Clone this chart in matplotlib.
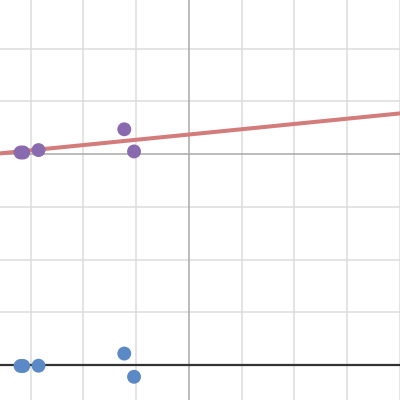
import numpy as np
import matplotlib.pyplot as plt

# point data
xs = [-3.19, -3.14, -2.85, -1.225, -1.04]
y_purple = [0.03, 0.03, 0.076, 0.47, 0.05]
y_blue = [-4.015, -4.015, -4.01, -3.78, -4.22]

# fitted line
slope = 0.1
intercept = 0.371
baseline = -4.0

x_lim = (-3.58, 4.0)
y_lim = (-4.66, 2.92)


def main():
    fig = plt.figure(figsize=(4, 4), dpi=100)
    ax = fig.add_axes([0, 0, 1, 1])
    ax.set_xlim(*x_lim)
    ax.set_ylim(*y_lim)

    for gx in range(-3, 5):
        if gx != 0:
            ax.axvline(gx, color='#dcdcdc', lw=1.1, zorder=0)
    for gy in range(-4, 3):
        if gy != 0:
            ax.axhline(gy, color='#dcdcdc', lw=1.1, zorder=0)
    ax.axvline(0, color='#a8a8a8', lw=1.1, zorder=1)
    ax.axhline(0, color='#a8a8a8', lw=1.1, zorder=1)
    ax.axhline(baseline, color='#333333', lw=1.6, zorder=2)

    lx = np.array(x_lim)
    ax.plot(lx, intercept + slope * lx, color='#d47b7b', lw=2.9, zorder=3)

    ax.scatter(xs, y_purple, s=100, color='#8a6aae', edgecolors='none', zorder=4)
    ax.scatter(xs, y_blue, s=100, color='#5a89c5', edgecolors='none', zorder=4)

    ax.set_xticks([])
    ax.set_yticks([])
    for sp in ax.spines.values():
        sp.set_visible(False)

    fig.savefig("out.png", dpi=100)


if __name__ == "__main__":
    main()
